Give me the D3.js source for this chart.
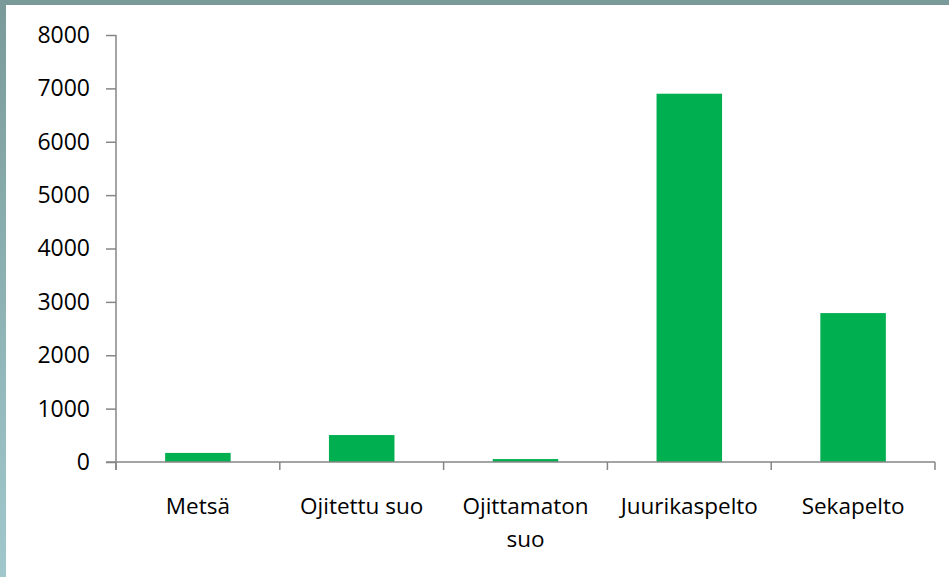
<!DOCTYPE html>
<html>
<head>
<meta charset="utf-8">
<script src="https://cdn.jsdelivr.net/npm/d3@7"></script>
<style>
	body { margin: 0; background: #fff; }
	svg { display: block; }
	svg text { font-family: "Open Sans", sans-serif; }
</style>
</head>
<body>
<div id="chart"></div>
<script>
var categories = ["Metsä", "Ojitettu suo", "Ojittamaton suo", "Juurikaspelto", "Sekapelto"];
var values = [170, 505, 55, 6900, 2790];
var yTicks = [0, 1000, 2000, 3000, 4000, 5000, 6000, 7000, 8000];

var W = 949, H = 577;
var margin = {top: 35, right: 14, bottom: 115, left: 116};
var width = W - margin.left - margin.right;
var height = H - margin.top - margin.bottom;

var svg = d3.select("#chart").append("svg")
	.attr("width", W)
	.attr("height", H);

// frame: top bar and left gradient strip
var defs = svg.append("defs");
var grad = defs.append("linearGradient")
	.attr("id", "leftStrip")
	.attr("x1", 0).attr("y1", 0).attr("x2", 0).attr("y2", 1);
grad.append("stop").attr("offset", "0%").attr("stop-color", "#7a9a9a");
grad.append("stop").attr("offset", "100%").attr("stop-color", "#a0c8cc");

svg.append("rect").attr("x", 0).attr("y", 0).attr("width", W).attr("height", 5).attr("fill", "#7a9a9a");
svg.append("rect").attr("x", 0).attr("y", 0).attr("width", 6).attr("height", H).attr("fill", "url(#leftStrip)");

var g = svg.append("g")
	.attr("transform", "translate(" + margin.left + "," + margin.top + ")");

var x = d3.scaleBand()
	.domain(categories)
	.range([0, width]);

var y = d3.scaleLinear()
	.domain([0, 8000])
	.range([height, 0]);

var axisColor = "#868686";

// bars
var barW = x.bandwidth() * 0.4;
g.selectAll(".bar")
	.data(values)
	.enter().append("rect")
	.attr("class", "bar")
	.attr("x", function(d, i) { return x(categories[i]) + (x.bandwidth() - barW) / 2; })
	.attr("y", function(d) { return y(d); })
	.attr("width", barW)
	.attr("height", function(d) { return y(0) - y(d); })
	.attr("fill", "#00b050");

// y axis
var yAxis = g.append("g")
	.call(d3.axisLeft(y).tickValues(yTicks).tickSize(10).tickPadding(16).tickFormat(d3.format("d")));
yAxis.attr("font-family", null).attr("font-size", null);
yAxis.select(".domain").attr("stroke", axisColor).attr("stroke-width", 1.5).attr("d", "M0,0V" + (height + 8));
yAxis.selectAll(".tick line").attr("stroke", axisColor).attr("stroke-width", 1.5);
yAxis.selectAll("text").attr("fill", "#000").style("font-size", "23px");

// x axis
var xTickPos = d3.range(categories.length + 1).map(function(i) { return i * x.step(); });
var xAxis = g.append("g").attr("transform", "translate(0," + height + ")");
xAxis.append("path")
	.attr("d", "M-10,0H" + width)
	.attr("stroke", axisColor)
	.attr("stroke-width", 1.5)
	.attr("fill", "none");
xAxis.selectAll(".xt")
	.data(xTickPos)
	.enter().append("line")
	.attr("class", "xt")
	.attr("x1", function(d) { return d; })
	.attr("x2", function(d) { return d; })
	.attr("y1", 0)
	.attr("y2", 8)
	.attr("stroke", axisColor)
	.attr("stroke-width", 1.5);

var labels = xAxis.selectAll(".xl")
	.data(categories)
	.enter().append("text")
	.attr("class", "xl")
	.attr("x", function(d) { return x(d) + x.bandwidth() / 2; })
	.attr("y", 52)
	.attr("text-anchor", "middle")
	.style("font-size", "22.5px")
	.attr("fill", "#000");

labels.each(function(d) {
	var t = d3.select(this);
	var parts = d === "Ojittamaton suo" ? ["Ojittamaton", "suo"] : [d];
	parts.forEach(function(p, i) {
		t.append("tspan")
			.attr("x", t.attr("x"))
			.attr("dy", i === 0 ? 0 : 33)
			.text(p);
	});
});
</script>
</body>
</html>
